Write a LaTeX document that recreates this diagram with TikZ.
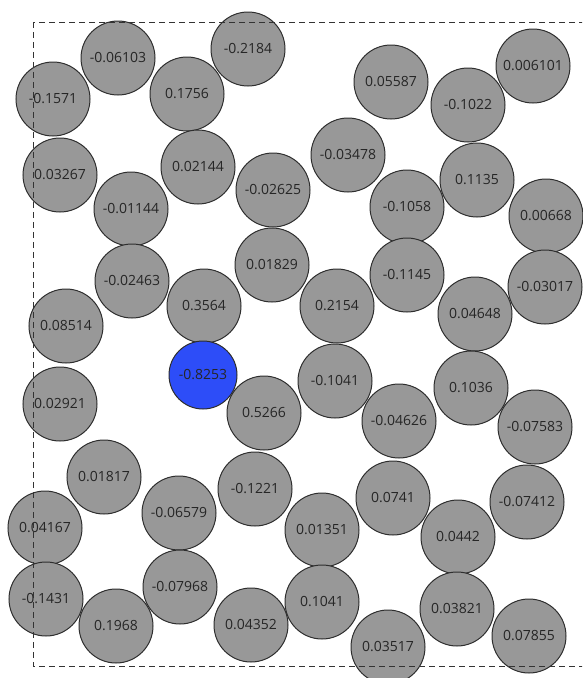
\documentclass[tikz,border=0pt]{standalone}
\usepackage{fontspec}
\setmainfont{Open Sans}
\usetikzlibrary{positioning}

\definecolor{beadgray}{HTML}{989898}
\definecolor{beadblue}{HTML}{2D4DF8}
\definecolor{rimgray}{HTML}{2E2E2E}

\begin{document}
\begin{tikzpicture}[x=1pt, y=-1pt,
		bead/.style={circle, draw=rimgray, line width=1pt, fill=beadgray,
			minimum size=74pt, inner sep=0pt, font=\fontsize{14}{16}\selectfont, text=black!85},
		hot/.style={bead, fill=beadblue, minimum size=68pt},
		frame/.style={draw=black!80, line width=1pt, dash pattern=on 6pt off 4pt}]
	\useasboundingbox (0,0) rectangle (582,678);
	% top rows
	\node[bead] (b01) at (118, 58) {-0.06103};
	\node[bead] (b02) at (248, 49) {-0.2184};
	\node[bead] (b03) at ( 53, 99) {-0.1571};
	\node[bead] (b04) at (187, 94) {0.1756};
	\node[bead] (b05) at (391, 82) {0.05587};
	\node[bead] (b06) at (468,105) {-0.1022};
	\node[bead] (b07) at (533, 66) {0.006101};
	\node[bead] (b08) at ( 60,175) {0.03267};
	\node[bead] (b09) at (198,167) {0.02144};
	\node[bead] (b10) at (273,190) {-0.02625};
	\node[bead] (b11) at (131,209) {-0.01144};
	\node[bead] (b12) at (348,155) {-0.03478};
	\node[bead] (b13) at (407,207) {-0.1058};
	\node[bead] (b14) at (477,180) {0.1135};
	\node[bead] (b15) at (546,216) {0.00668};
	% middle rows
	\node[bead] (b16) at (132,281) {-0.02463};
	\node[bead] (b17) at (204,306) {0.3564};
	\node[bead] (b18) at (272,265) {0.01829};
	\node[bead] (b19) at ( 66,326) {0.08514};
	\node[bead] (b20) at ( 60,404) {0.02921};
	\node[hot]  (b21) at (203,375) {-0.8253};
	\node[bead] (b22) at (264,413) {0.5266};
	\node[bead] (b23) at (407,275) {-0.1145};
	\node[bead] (b24) at (337,306) {0.2154};
	\node[bead] (b25) at (475,314) {0.04648};
	\node[bead] (b26) at (545,287) {-0.03017};
	\node[bead] (b27) at (335,381) {-0.1041};
	\node[bead] (b28) at (399,421) {-0.04626};
	\node[bead] (b29) at (471,388) {0.1036};
	\node[bead] (b30) at (535,427) {-0.07583};
	% bottom rows
	\node[bead] (b31) at (104,477) {0.01817};
	\node[bead] (b32) at (179,513) {-0.06579};
	\node[bead] (b33) at (255,489) {-0.1221};
	\node[bead] (b34) at ( 45,528) {0.04167};
	\node[bead] (b35) at ( 46,599) {-0.1431};
	\node[bead] (b36) at (116,626) {0.1968};
	\node[bead] (b37) at (180,587) {-0.07968};
	\node[bead] (b38) at (251,625) {0.04352};
	\node[bead] (b39) at (393,498) {0.0741};
	\node[bead] (b40) at (322,530) {0.01351};
	\node[bead] (b41) at (458,537) {0.0442};
	\node[bead] (b42) at (527,502) {-0.07412};
	\node[bead] (b43) at (322,602) {0.1041};
	\node[bead] (b44) at (388,647) {0.03517};
	\node[bead] (b45) at (457,609) {0.03821};
	\node[bead] (b46) at (529,636) {0.07855};
	% box on top
	\begin{scope}
		\clip (0,0) rectangle (582,678);
		\draw[frame] (33,22) rectangle (600,666);
	\end{scope}
\end{tikzpicture}
\end{document}
